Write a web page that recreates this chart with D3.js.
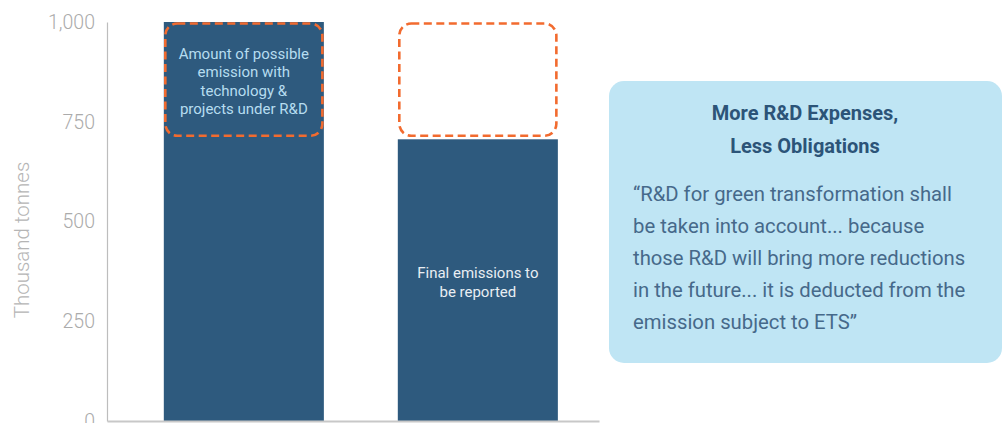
<!DOCTYPE html>
<html>
<head>
<meta charset="utf-8">
<script src="https://cdn.jsdelivr.net/npm/d3@7"></script>
<style>
  html, body { margin: 0; padding: 0; background: #fff; }
  svg { display: block; font-family: Roboto, "Noto Sans", sans-serif; }
</style>
</head>
<body>
<svg id="chart" width="1003" height="423"></svg>
<script>
// ---- data ----
const categories = ["With R&D deduction", "Final"];
const totalValues = [1000, 706];           // bar heights, thousand tonnes
const possibleRange = [711, 1000];          // dashed "possible emission" band
const yTicks = [0, 250, 500, 750, 1000];
const yLabel = "Thousand tonnes";
const barLabels = [
  ["Amount of possible", "emission with", "technology &", "projects under R&D"],
  ["Final emissions to", "be reported"]
];
const calloutTitle = ["More R&D Expenses,", "Less Obligations"];
const calloutBody = [
  "\u201CR&D for green transformation shall",
  "be taken into account... because",
  "those R&D will bring more reductions",
  "in the future... it is deducted from the",
  "emission subject to ETS\u201D"
];

// ---- layout ----
const svg = d3.select("#chart");
const x0 = 107, x1 = 599, yBottom = 421, yTop = 22;

const x = d3.scaleBand().domain(categories).range([x0, x1])
  .paddingInner(0.316).paddingOuter(0.2093).align(0.58);
const y = d3.scaleLinear().domain([0, 1000]).range([yBottom, yTop]);

const barColor = "#2E5A7E";
const orange = "#F26B2F";

// bars
svg.append("g").selectAll("rect").data(categories).join("rect")
  .attr("x", d => x(d))
  .attr("y", (d, i) => y(totalValues[i]))
  .attr("width", x.bandwidth())
  .attr("height", (d, i) => y(0) - y(totalValues[i]))
  .attr("fill", barColor);

// axes
const yAxis = d3.axisLeft(y).tickValues(yTicks).tickFormat(d3.format(",")).tickSize(0).tickPadding(12);
const gy = svg.append("g").attr("transform", `translate(${x0},0)`).call(yAxis);
gy.select(".domain").attr("stroke", "#BDBDBD").attr("stroke-width", 1.2);
gy.selectAll("text").attr("fill", "#ABABAB").attr("font-size", 19.5).attr("font-weight", 300)
  .attr("font-family", "Roboto, sans-serif");

const xAxis = d3.axisBottom(x).tickSize(0).tickFormat("");
const gx = svg.append("g").attr("transform", `translate(0,${yBottom})`).call(xAxis);
gx.select(".domain").attr("stroke", "#C8C8C8").attr("stroke-width", 2);

// y label
svg.append("text")
  .attr("transform", `translate(29,240) rotate(-90)`)
  .attr("text-anchor", "middle")
  .attr("fill", "#B5B5B5").attr("font-size", 20.5).attr("font-weight", 300)
  .text(yLabel);

// dashed boxes
svg.append("g").selectAll("rect").data(categories).join("rect")
  .attr("x", d => x(d) + 1.5)
  .attr("y", y(possibleRange[1]) + 1.5)
  .attr("width", x.bandwidth() - 3)
  .attr("height", y(possibleRange[0]) - y(possibleRange[1]) - 3)
  .attr("rx", 12).attr("ry", 12)
  .attr("fill", "none")
  .attr("stroke", orange).attr("stroke-width", 2.6)
  .attr("stroke-dasharray", "8,4.5");

// label in first bar
const lab1 = svg.append("text").attr("text-anchor", "middle")
  .attr("fill", "#B6DDF0").attr("font-size", 15);
barLabels[0].forEach((t, i) => {
  lab1.append("tspan").attr("x", x(categories[0]) + x.bandwidth() / 2)
    .attr("y", 58.5 + i * 18.5).text(t);
});
// label in second bar
const lab2 = svg.append("text").attr("text-anchor", "middle")
  .attr("fill", "#E8EEF3").attr("font-size", 15);
barLabels[1].forEach((t, i) => {
  lab2.append("tspan").attr("x", x(categories[1]) + x.bandwidth() / 2)
    .attr("y", 278 + i * 18.5).text(t);
});

// callout
svg.append("rect").attr("x", 609).attr("y", 81).attr("width", 393).attr("height", 282)
  .attr("rx", 15).attr("ry", 15).attr("fill", "#BFE5F4");
const title = svg.append("text").attr("text-anchor", "middle")
  .attr("fill", "#2C5478").attr("font-size", 20).attr("font-weight", 700);
calloutTitle.forEach((t, i) => {
  title.append("tspan").attr("x", 805).attr("y", 120 + i * 33).text(t);
});
const body = svg.append("text").attr("fill", "#46698A").attr("font-size", 20.3);
calloutBody.forEach((t, i) => {
  body.append("tspan").attr("x", 633).attr("y", 201 + i * 32).text(t);
});
</script>
</body>
</html>
